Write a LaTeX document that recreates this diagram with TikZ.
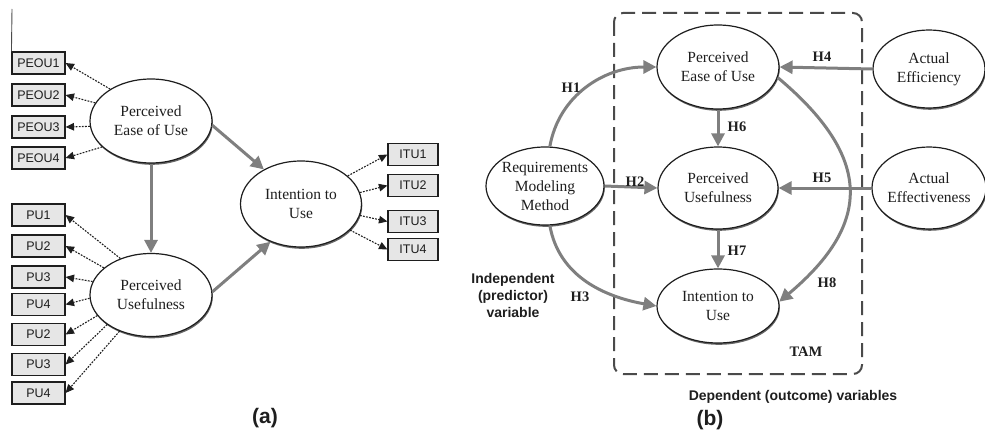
\documentclass[tikz,border=0pt]{standalone}
\usepackage{fontspec}
\setmainfont{Liberation Serif}
\setsansfont{Liberation Sans}
\usetikzlibrary{arrows.meta,shapes.geometric,shadows}
\definecolor{arrgray}{HTML}{7F7F7F}
\definecolor{boxfill}{HTML}{E6E6E6}
\definecolor{framegray}{HTML}{4A4A4A}
\definecolor{inkblack}{HTML}{1E1E1E}

\begin{document}
\begin{tikzpicture}[x=1pt,y=-1pt,
  latent/.style={ellipse, draw=inkblack, line width=1.2pt, fill=white,
    inner xsep=-14pt, inner ysep=0pt, align=center, text=inkblack,
    font=\fontsize{15.5}{19}\selectfont,
    drop shadow={shadow xshift=0.8pt, shadow yshift=-1.8pt, fill=black!75, opacity=0.8}},
  indicator/.style={rectangle, draw=inkblack, line width=1.1pt, fill=boxfill,
    minimum width=53pt, minimum height=22pt, inner sep=0pt, text=inkblack,
    font=\sffamily\fontsize{12.5}{14}\selectfont},
  loading/.style={inkblack, line width=1.1pt, dash pattern=on 1.8pt off 1.3pt,
    -{Triangle[length=8.5pt,width=7.5pt]}},
  effect/.style={arrgray, line width=3pt, -{Triangle[length=13pt,width=13pt]}},
  hlabel/.style={text=inkblack, font=\bfseries\fontsize{14.5}{17}\selectfont},
  panellabel/.style={text=inkblack, font=\sffamily\bfseries\fontsize{21}{24}\selectfont},
  sidenote/.style={text=inkblack, align=center, font=\sffamily\bfseries\fontsize{14}{17}\selectfont},
]
\useasboundingbox (0,0) rectangle (985,444);

% ---------------- (a) measurement model ----------------
\node[latent, minimum width=122pt, minimum height=84pt] (pe)  at (151,121) {Perceived\\Ease of Use};
\node[latent, minimum width=122pt, minimum height=83pt] (pu)  at (151,295) {Perceived\\Usefulness};
\node[latent, minimum width=121pt, minimum height=86pt] (itu) at (301,204) {Intention to\\Use};

\node[indicator] (peou1) at (38.5,63)  {PEOU1};
\node[indicator] (peou2) at (38.5,95)  {PEOU2};
\node[indicator] (peou3) at (38.5,127) {PEOU3};
\node[indicator] (peou4) at (38.5,158) {PEOU4};

\node[indicator] (pu1) at (38.5,215)   {PU1};
\node[indicator] (pu2) at (38.5,246)   {PU2};
\node[indicator] (pu3) at (38.5,277)   {PU3};
\node[indicator] (pu4) at (38.5,304.5) {PU4};
\node[indicator] (pu5) at (38.5,334.5) {PU2};
\node[indicator] (pu6) at (38.5,364.5) {PU3};
\node[indicator] (pu7) at (38.5,393)   {PU4};

\node[indicator, minimum width=50pt] (itu1) at (413,154.5) {ITU1};
\node[indicator, minimum width=50pt] (itu2) at (413,185.5) {ITU2};
\node[indicator, minimum width=50pt] (itu3) at (413,221.5) {ITU3};
\node[indicator, minimum width=50pt] (itu4) at (413,249.5) {ITU4};

% thin rule above the first indicator
\coordinate (ruletop) at (12,9);
\draw[inkblack!80, line width=0.9pt] (ruletop) -- (peou1.north west);

% structural paths
\draw[effect] (pe.-4) -- (itu.137);
\draw[effect] (pe.south) -- (pu.north);
\draw[effect] (pu.3) -- (itu.231);

% loadings
\draw[loading] (pe.142) -- (peou1.east);
\draw[loading] (pe.162) -- (peou2.east);
\draw[loading] (pe.185) -- (peou3.east);
\draw[loading] (pe.208) -- (peou4.east);

\draw[loading] (pu.130) -- (pu1.east);
\draw[loading] (pu.150) -- (pu2.east);
\draw[loading] (pu.167) -- (pu3.east);
\draw[loading] (pu.183) -- (pu4.east);
\draw[loading] (pu.201) -- (pu5.east);
\draw[loading] (pu.214) -- (pu6.east);
\draw[loading] (pu.229) -- (pu7.east);

\draw[loading] (itu.31)  -- (itu1.west);
\draw[loading] (itu.11)  -- (itu2.west);
\draw[loading] (itu.-11) -- (itu3.west);
\draw[loading] (itu.-28) -- (itu4.west);

\node[panellabel] (capa) at (265,418) {(a)};

% ---------------- (b) research model ----------------
\draw[framegray, line width=2pt, dash pattern=on 14pt off 7pt, rounded corners=9pt]
  (614,13) rectangle (862,374);

\node[latent, minimum width=118pt, minimum height=78pt] (rmm)  at (545,186) {Requirements\\Modeling\\Method};
\node[latent, minimum width=122pt, minimum height=84pt] (peb)  at (718,67)  {Perceived\\Ease of Use};
\node[latent, minimum width=120pt, minimum height=82pt] (pub)  at (718,188) {Perceived\\Usefulness};
\node[latent, minimum width=122pt, minimum height=74pt] (itub) at (718,306) {Intention to\\Use};
\node[latent, minimum width=112pt, minimum height=78pt] (eff)  at (929,69)  {Actual\\Efficiency};
\node[latent, minimum width=114pt, minimum height=82pt] (efv)  at (929,188) {Actual\\Effectiveness};

\draw[effect] (rmm.83) to[out=80,in=180] (peb.west);
\draw[effect] (rmm.east) -- (pub.west);
\draw[effect] (rmm.-83) to[out=-80,in=170] (itub.west);
\draw[effect] (eff.west) -- (peb.east);
\draw[effect] (efv.west) -- (pub.east);
\draw[effect] (peb.south) -- (pub.north);
\draw[effect] (pub.south) -- (itub.north);
\draw[effect] (peb.-10) to[out=-40,in=40,looseness=1.4] (itub.4);

\node[hlabel] (h1) at (571,88)  {H1};
\node[hlabel] (h2) at (635,182) {H2};
\node[hlabel] (h3) at (580,297) {H3};
\node[hlabel] (h4) at (822,57)  {H4};
\node[hlabel] (h5) at (822,178) {H5};
\node[hlabel] (h6) at (737,127) {H6};
\node[hlabel] (h7) at (737,251) {H7};
\node[hlabel] (h8) at (827,283) {H8};
\node[hlabel] (tam) at (806,352) {TAM};

\node[sidenote] (indep) at (513,295) {Independent\\(predictor)\\variable};
\node[sidenote] (dep) at (793,397) {Dependent (outcome) variables};

\node[panellabel] (capb) at (710,420) {(b)};
\end{tikzpicture}
\end{document}
